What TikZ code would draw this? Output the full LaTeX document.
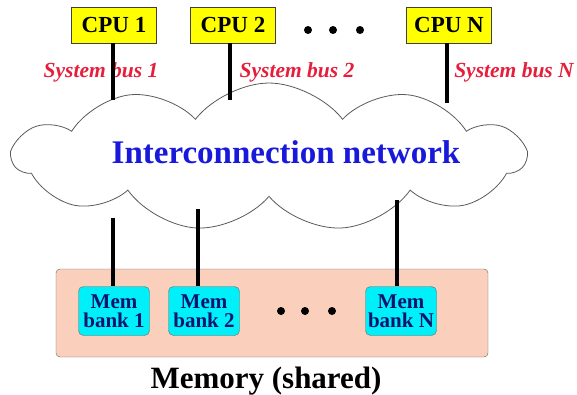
\documentclass[tikz,border=0pt]{standalone}
\usepackage{fontspec}
\setmainfont{Liberation Serif}
\usepackage{tikz}
\usetikzlibrary{calc,positioning,shapes.symbols}
\definecolor{cpuyellow}{RGB}{255,255,0}
\definecolor{bankcyan}{RGB}{0,240,250}
\definecolor{bankblue}{RGB}{10,20,110}
\definecolor{mempeach}{RGB}{250,208,188}
\definecolor{busred}{RGB}{230,30,60}
\definecolor{netblue}{RGB}{25,25,220}

\begin{document}
\begin{tikzpicture}[x=1pt,y=-1pt]
\tikzstyle{cpu}=[draw=black!75, fill=cpuyellow, minimum width=85pt,
                 minimum height=36pt, inner sep=1pt,
                 font=\fontsize{23}{23}\selectfont\bfseries]
\tikzstyle{bank}=[draw=black!60, fill=bankcyan, rounded corners=5pt,
                  minimum width=71pt, minimum height=49pt, inner sep=1pt,
                  align=center, text=bankblue,
                  font=\fontsize{21}{19}\selectfont\bfseries]
\tikzstyle{bus}=[text=busred, font=\fontsize{21.5}{21}\selectfont\bfseries\itshape]
\tikzstyle{wire}=[line width=3.2pt, black]
\useasboundingbox (0,0) rectangle (577,394);
% interconnect
\node[cloud, cloud puffs=11, cloud puff arc=105, cloud ignores aspect,
      draw=black!65, line width=0.8pt, minimum width=512pt,
      minimum height=148pt] (net) at (269,157) {};
\node[text=netblue, font=\fontsize{33}{33}\selectfont\bfseries] (nettxt) at (286,152) {Interconnection network};
% memory
\node[draw=black!60, fill=mempeach, rounded corners=4pt, minimum width=432pt,
      minimum height=88pt] (mem) at (272,313) {};
\node[font=\fontsize{31}{31}\selectfont\bfseries] (memtxt) at (266,381) {Memory (shared)};
\node[bank] (m1) at (114,311) {Mem\\bank 1};
\node[bank] (m2) at (204,311) {Mem\\bank 2};
\node[bank] (mN) at (401,311) {Mem\\bank N};
% processors
\node[cpu] (c1) at (114,25) {CPU 1};
\node[cpu] (c2) at (233,25) {CPU 2};
\node[cpu] (cN) at (449,25) {CPU N};
\node[bus] (s1) at (101,72) {System bus 1};
\node[bus] (s2) at (297,72) {System bus 2};
\node[bus] (sN) at (514,72) {System bus N};
\foreach \x in {308,333,360}{\fill (\x,30) circle (4pt);}
\foreach \x in {281,305,332}{\fill (\x,311) circle (4pt);}
% wires
\coordinate (b1) at (113,100);
\coordinate (b2) at (230,100);
\coordinate (bN) at (447,103);
\coordinate (t1) at (113,218);
\coordinate (t2) at (198,209);
\coordinate (tN) at (397,200);
\foreach \i/\j in {c1/b1,c2/b2,cN/bN}{\draw[wire] (\i.south -| \j) -- (\j);}
\foreach \i/\j in {t1/m1,t2/m2,tN/mN}{\draw[wire] (\i) -- (\i |- \j.north);}
\end{tikzpicture}
\end{document}
